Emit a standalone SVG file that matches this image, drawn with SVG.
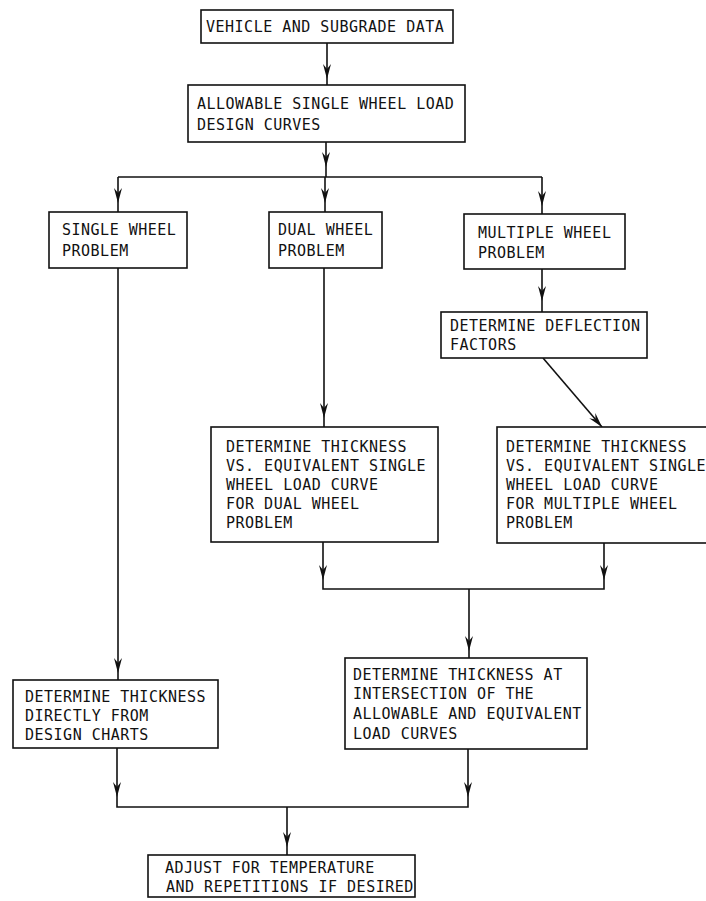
<svg xmlns="http://www.w3.org/2000/svg" xmlns:xlink="http://www.w3.org/1999/xlink" width="706" height="901" viewBox="0 0 706 901">
<style>
.box{fill:#fff;stroke:#111;stroke-width:1.6}
.t{font-family:"DejaVu Sans Mono","Liberation Mono",monospace;font-size:15px;letter-spacing:0.5px;fill:#111}
.c{fill:none;stroke:#111;stroke-width:1.6}
.ah{fill:#111;stroke:none}
</style>
<defs>
<path id="ah" class="ah" d="M0,0 L-4,-15 L0,-10 L4,-15 Z"/>
</defs>
<rect width="706" height="901" fill="#fff"/>
<g id="connectors">
<path class="c" d="M327,43 V85"/>
<path class="c" d="M326,142 V177"/>
<path class="c" d="M118,177 H542"/>
<path class="c" d="M118,177 V212"/>
<path class="c" d="M325,177 V212"/>
<path class="c" d="M542,177 V214"/>
<path class="c" d="M542,269 V312"/>
<path class="c" d="M324,268 V427"/>
<path class="c" d="M543,358 L602,427"/>
<path class="c" d="M323,542 V589 H604 V543"/>
<path class="c" d="M469,589 V658"/>
<path class="c" d="M118,268 V680"/>
<path class="c" d="M117,748 V807 H468 V749"/>
<path class="c" d="M287,807 V855"/>
<use xlink:href="#ah" x="327" y="79"/>
<use xlink:href="#ah" x="326" y="167"/>
<use xlink:href="#ah" x="118" y="203"/>
<use xlink:href="#ah" x="325" y="203"/>
<use xlink:href="#ah" x="542" y="206"/>
<use xlink:href="#ah" x="542" y="301"/>
<use xlink:href="#ah" x="324" y="418"/>
<use xlink:href="#ah" transform="translate(602,427) rotate(-40.5)"/>
<use xlink:href="#ah" x="323" y="580"/>
<use xlink:href="#ah" x="604" y="580"/>
<use xlink:href="#ah" x="469" y="651"/>
<use xlink:href="#ah" x="118" y="673"/>
<use xlink:href="#ah" x="117" y="797"/>
<use xlink:href="#ah" x="468" y="797"/>
<use xlink:href="#ah" x="287" y="847"/>
</g>
<g id="vehicle">
<rect class="box" x="201" y="10" width="252" height="33"/>
<text class="t" x="206" y="32">VEHICLE AND SUBGRADE DATA</text>
</g>
<g id="allowable">
<rect class="box" x="188" y="85" width="277" height="57"/>
<text class="t" x="197" y="109">ALLOWABLE SINGLE WHEEL LOAD</text>
<text class="t" x="197" y="130">DESIGN CURVES</text>
</g>
<g id="single">
<rect class="box" x="49" y="212" width="138" height="56"/>
<text class="t" x="62" y="235">SINGLE WHEEL</text>
<text class="t" x="62" y="256">PROBLEM</text>
</g>
<g id="dual">
<rect class="box" x="269" y="212" width="113" height="56"/>
<text class="t" x="278" y="235">DUAL WHEEL</text>
<text class="t" x="278" y="256">PROBLEM</text>
</g>
<g id="multiple">
<rect class="box" x="464" y="214" width="161" height="55"/>
<text class="t" x="478" y="238">MULTIPLE WHEEL</text>
<text class="t" x="478" y="258">PROBLEM</text>
</g>
<g id="deflection">
<rect class="box" x="441" y="312" width="206" height="46"/>
<text class="t" x="450" y="331">DETERMINE DEFLECTION</text>
<text class="t" x="450" y="350">FACTORS</text>
</g>
<g id="dual-curve">
<rect class="box" x="211" y="427" width="227" height="115"/>
<text class="t" x="226" y="452">DETERMINE THICKNESS</text>
<text class="t" x="226" y="471">VS. EQUIVALENT SINGLE</text>
<text class="t" x="226" y="490">WHEEL LOAD CURVE</text>
<text class="t" x="226" y="509">FOR DUAL WHEEL</text>
<text class="t" x="226" y="528">PROBLEM</text>
</g>
<g id="multiple-curve">
<rect class="box" x="497" y="427" width="212" height="116"/>
<text class="t" x="506" y="452">DETERMINE THICKNESS</text>
<text class="t" x="506" y="471">VS. EQUIVALENT SINGLE</text>
<text class="t" x="506" y="490">WHEEL LOAD CURVE</text>
<text class="t" x="506" y="509">FOR MULTIPLE WHEEL</text>
<text class="t" x="506" y="528">PROBLEM</text>
</g>
<g id="intersection">
<rect class="box" x="345" y="658" width="242" height="91"/>
<text class="t" x="353" y="680">DETERMINE THICKNESS AT</text>
<text class="t" x="353" y="699">INTERSECTION OF THE</text>
<text class="t" x="353" y="719">ALLOWABLE AND EQUIVALENT</text>
<text class="t" x="353" y="739">LOAD CURVES</text>
</g>
<g id="directly">
<rect class="box" x="13" y="680" width="205" height="68"/>
<text class="t" x="25" y="702">DETERMINE THICKNESS</text>
<text class="t" x="25" y="721">DIRECTLY FROM</text>
<text class="t" x="25" y="740">DESIGN CHARTS</text>
</g>
<g id="adjust">
<rect class="box" x="148" y="855" width="267" height="42"/>
<text class="t" x="165" y="873">ADJUST FOR TEMPERATURE</text>
<text class="t" x="166" y="892">AND REPETITIONS IF DESIRED</text>
</g>
</svg>
